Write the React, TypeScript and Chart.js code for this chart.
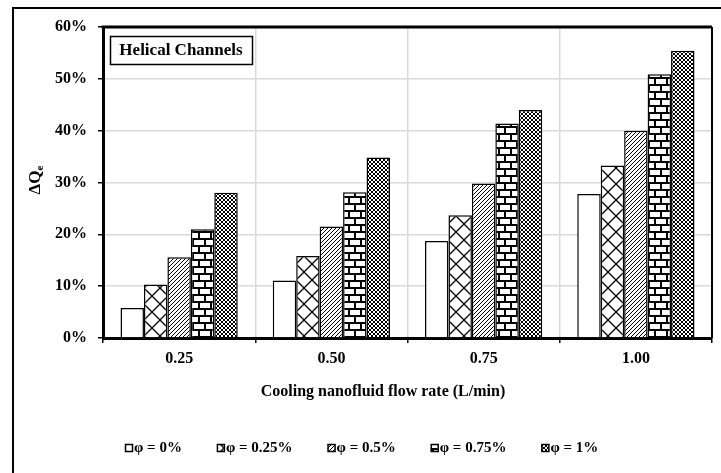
import React, { useEffect, useRef } from 'react';
import { Chart, registerables } from 'chart.js';

Chart.register(...registerables);

const categories = ['0.25', '0.50', '0.75', '1.00'];
const seriesLabels = ['φ = 0%', 'φ = 0.25%', 'φ = 0.5%', 'φ = 0.75%', 'φ = 1%'];
const phi0 = [5.8, 11.1, 18.7, 27.8];
const phi025 = [10.3, 15.8, 23.7, 33.3];
const phi05 = [15.6, 21.5, 29.8, 40.0];
const phi075 = [21.0, 28.1, 41.4, 50.9];
const phi1 = [28.0, 34.8, 44.0, 55.4];
const yMin = 0;
const yMax = 60;
const yStep = 10;
const boxLabel = 'Helical Channels';
const xTitle = 'Cooling nanofluid flow rate (L/min)';
const yTitleMain = 'ΔQ';
const yTitleSub = 'e';

const FONT = "'Liberation Serif', 'Times New Roman', serif";

function makePattern(ctx: CanvasRenderingContext2D, w: number, h: number, draw: (g: CanvasRenderingContext2D) => void) {
  const c = document.createElement('canvas');
  c.width = w;
  c.height = h;
  const g = c.getContext('2d') as CanvasRenderingContext2D;
  g.fillStyle = '#ffffff';
  g.fillRect(0, 0, w, h);
  g.fillStyle = '#000000';
  g.strokeStyle = '#000000';
  draw(g);
  return ctx.createPattern(c, 'repeat') as CanvasPattern;
}

function buildFills(ctx: CanvasRenderingContext2D): (string | CanvasPattern)[] {
  const white = '#ffffff';
  const lattice = makePattern(ctx, 16, 16, (g) => {
    g.lineWidth = 1.3;
    g.beginPath();
    g.moveTo(0, 0); g.lineTo(16, 16);
    g.moveTo(16, 0); g.lineTo(0, 16);
    g.moveTo(-1, 15); g.lineTo(1, 17);
    g.moveTo(15, -1); g.lineTo(17, 1);
    g.moveTo(-1, 1); g.lineTo(1, -1);
    g.moveTo(15, 17); g.lineTo(17, 15);
    g.stroke();
  });
  const diag = makePattern(ctx, 4, 4, (g) => {
    for (let i = 0; i < 4; i++) g.fillRect(i, 3 - i, 1, 1);
  });
  const brick = makePattern(ctx, 12, 14, (g) => {
    g.fillRect(0, 0, 12, 2);
    g.fillRect(0, 7, 12, 2);
    g.fillRect(0, 2, 2, 5);
    g.fillRect(6, 9, 2, 5);
  });
  const dots = makePattern(ctx, 4, 4, (g) => {
    for (let i = 0; i < 4; i++) {
      g.fillRect(i, i, 1, 1);
      g.fillRect(i, 3 - i, 1, 1);
    }
  });
  return [white, lattice, diag, brick, dots];
}

export default function App() {
  const ref = useRef<HTMLCanvasElement>(null);

  useEffect(() => {
    const canvas = ref.current;
    if (!canvas) return;
    const ctx = canvas.getContext('2d') as CanvasRenderingContext2D;
    const fills = buildFills(ctx);
    const series = [phi0, phi025, phi05, phi075, phi1];

    const decor = {
      id: 'decor',
      beforeDraw(chart: any) {
        const c = chart.ctx as CanvasRenderingContext2D;
        c.save();
        c.fillStyle = '#ffffff';
        c.fillRect(0, 0, chart.width, chart.height);
        c.strokeStyle = '#000000';
        c.lineWidth = 2;
        c.beginPath();
        c.moveTo(13, chart.height);
        c.lineTo(13, 8);
        c.lineTo(chart.width, 8);
        c.stroke();
        c.restore();
      },
      afterDraw(chart: any) {
        const c = chart.ctx as CanvasRenderingContext2D;
        const a = chart.chartArea;
        c.save();
        c.strokeStyle = '#000000';
        c.lineWidth = 3;
        c.beginPath();
        c.moveTo(a.left - 1.5, a.top);
        c.lineTo(a.right, a.top);
        c.stroke();
        c.lineWidth = 2;
        c.beginPath();
        c.moveTo(a.right, a.top);
        c.lineTo(a.right, a.bottom);
        c.stroke();

        // label box
        c.font = `bold 17px ${FONT}`;
        c.lineWidth = 1.5;
        c.fillStyle = '#ffffff';
        c.fillRect(110, 36, 142, 28);
        c.strokeRect(110.5, 36.5, 142, 28);
        c.fillStyle = '#000000';
        c.textAlign = 'center';
        c.textBaseline = 'middle';
        c.fillText(boxLabel, 181, 51);

        // x title
        c.font = `bold 16px ${FONT}`;
        c.fillText(xTitle, 383, 392);

        // y title (rotated)
        c.save();
        c.translate(34, 180);
        c.rotate(-Math.PI / 2);
        c.font = `bold 17px ${FONT}`;
        const mw = c.measureText(yTitleMain).width;
        c.font = `bold 11px ${FONT}`;
        const sw = c.measureText(yTitleSub).width;
        const total = mw + sw;
        c.textAlign = 'left';
        c.textBaseline = 'alphabetic';
        c.font = `bold 17px ${FONT}`;
        c.fillText(yTitleMain, -total / 2, 6);
        c.font = `bold 11px ${FONT}`;
        c.fillText(yTitleSub, -total / 2 + mw, 9);
        c.restore();

        // legend
        c.font = `bold 15px ${FONT}`;
        c.textAlign = 'left';
        c.textBaseline = 'middle';
        let x = 125;
        const y = 448;
        chart.data.datasets.forEach((ds: any, i: number) => {
          c.fillStyle = fills[i] as any;
          c.fillRect(x, y - 4, 7, 7);
          c.strokeStyle = '#000000';
          c.lineWidth = 1.5;
          c.strokeRect(x + 0.5, y - 3.5, 7, 7);
          c.fillStyle = '#000000';
          c.fillText(ds.label, x + 9, y);
          x += 9 + c.measureText(ds.label).width + 35;
        });
        c.restore();
      },
    };

    const chart = new Chart(canvas, {
      type: 'bar',
      data: {
        labels: categories,
        datasets: series.map((d, i) => ({
          label: seriesLabels[i],
          data: d,
          backgroundColor: fills[i] as any,
          borderColor: '#000000',
          borderWidth: 1.5,
          categoryPercentage: 0.77,
          barPercentage: 1.0,
        })),
      },
      options: {
        animation: false,
        responsive: false,
        maintainAspectRatio: false,
        layout: { padding: { left: 0, top: 27, right: 9, bottom: 0 } },
        plugins: {
          legend: { display: false },
          tooltip: { enabled: false },
        },
        scales: {
          x: {
            grid: {
              color: '#d9d9d9',
              lineWidth: 1.5,
              tickColor: '#000000',
              tickLength: 5,
              tickWidth: 1.5,
            },
            border: { color: '#000000', width: 3 },
            ticks: {
              color: '#000000',
              font: { family: FONT, size: 16, weight: 'bold' },
              padding: 6,
            },
            afterFit(scale: any) {
              scale.height = 135;
            },
          },
          y: {
            min: yMin,
            max: yMax,
            grid: {
              color: '#d9d9d9',
              lineWidth: 1.5,
              tickColor: '#000000',
              tickLength: 5,
              tickWidth: 1.5,
            },
            border: { color: '#000000', width: 3 },
            ticks: {
              stepSize: yStep,
              color: '#000000',
              font: { family: FONT, size: 16, weight: 'bold' },
              padding: 11,
              callback: (v: any) => `${v}%`,
            },
            afterFit(scale: any) {
              scale.width = 103;
            },
          },
        },
      },
      plugins: [decor],
    });

    return () => chart.destroy();
  }, []);

  return (
    <div style={{ position: 'absolute', left: 0, top: 0, width: 721, height: 473 }}>
      <canvas ref={ref} width={721} height={473} style={{ display: 'block' }} />
    </div>
  );
}
